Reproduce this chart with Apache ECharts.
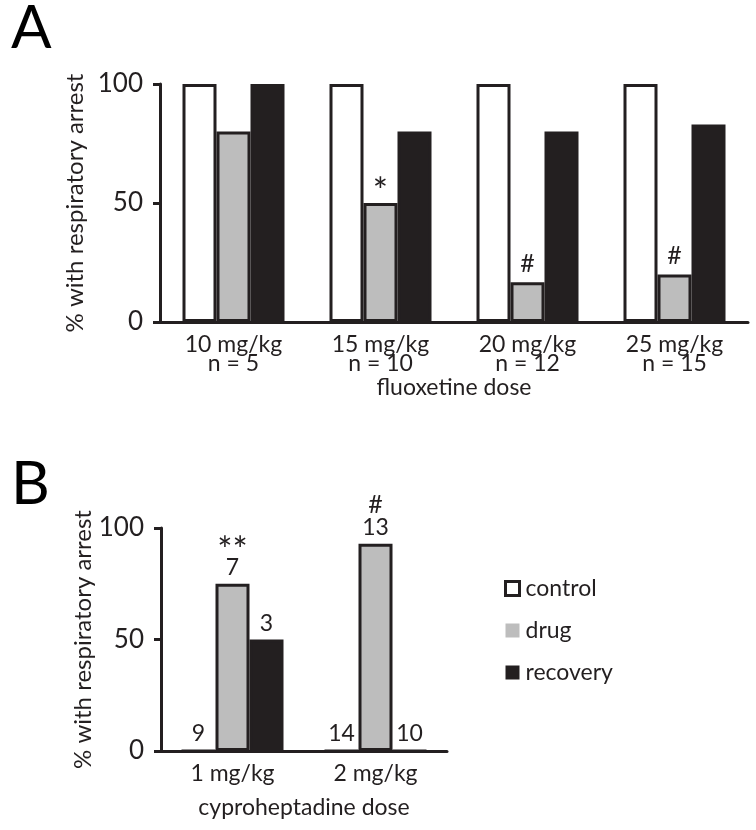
<!DOCTYPE html>
<html><head><meta charset="utf-8">
<script src="https://cdn.jsdelivr.net/npm/echarts@6/dist/echarts.min.js"></script>
<style>html,body{margin:0;padding:0;background:#fff}#c{width:756px;height:830px}</style>
</head><body><div id="c"></div>
<script>
// Panel A data
var catsA = ['10 mg/kg\nn = 5', '15 mg/kg\nn = 10', '20 mg/kg\nn = 12', '25 mg/kg\nn = 15'];
var controlA = [100, 100, 100, 100];
var drugA = [80, 50, 16.7, 20];
var recoveryA = [100, 80, 80, 83];
var drugMarksA = ['', '*', '#', '#'];
// Panel B data
var catsB = ['1 mg/kg', '2 mg/kg'];
var controlB = [0, 0];
var drugB = [75, 92.9];
var recoveryB = [50, 0];
var controlNB = ['9', '14'];
var drugNB = ['7', '13'];
var recoveryNB = ['3', '10'];
var drugMarksB = ['**', '#'];
var yTicks = [0, 50, 100];

var DARK = '#231f20', GRAY = '#bdbdbd';
var FONT = 'Lato';
var chart = echarts.init(document.getElementById('c'));

function markRich(m) {
  return m.indexOf('*') >= 0 ? '{s|' + m + '}' : '{h|' + m + '}';
}
var markStyles = {
  s: {fontFamily: FONT, fontSize: 36, color: DARK, lineHeight: 22, padding: [0, 0, -12, 0]},
  h: {fontFamily: FONT, fontSize: 25, color: DARK, lineHeight: 24}
};

function yAxis(gi) {
  return {
    gridIndex: gi, type: 'value', min: yTicks[0], max: yTicks[yTicks.length - 1], interval: yTicks[1] - yTicks[0],
    name: '% with respiratory arrest', nameLocation: 'middle', nameGap: 66,
    nameTextStyle: {fontFamily: FONT, fontSize: 24, color: DARK},
    axisLine: {show: true, lineStyle: {color: DARK, width: 3}},
    axisTick: {show: true, length: 7, lineStyle: {color: DARK, width: 3}},
    axisLabel: {fontFamily: FONT, fontSize: 26, color: DARK, margin: 17},
    splitLine: {show: false}
  };
}
function xAxis(gi, cats, name, nameGap) {
  return {
    gridIndex: gi, type: 'category', data: cats,
    name: name, nameLocation: 'middle', nameGap: nameGap,
    nameTextStyle: {fontFamily: FONT, fontSize: 23, color: DARK},
    axisLine: {show: true, lineStyle: {color: DARK, width: 3}},
    axisTick: {show: false},
    axisLabel: {fontFamily: FONT, fontSize: 23, color: DARK, margin: 13, lineHeight: 19},
    splitLine: {show: false}
  };
}

function bar(name, gi, data, fill, label) {
  var s = {
    name: name, type: 'bar', xAxisIndex: gi, yAxisIndex: gi, data: data,
    barWidth: 34, barGap: '0%',
    itemStyle: {color: fill, borderColor: DARK, borderWidth: 3},
    emphasis: {disabled: true}
  };
  if (label) s.label = label;
  return s;
}

chart.setOption({
  animation: false,
  backgroundColor: '#fff',
  title: [
    {text: 'A', left: 6, top: -6, textStyle: {fontFamily: FONT, fontSize: 60, fontWeight: 'normal', color: '#000'}},
    {text: 'B', left: 6, top: 450, textStyle: {fontFamily: FONT, fontSize: 60, fontWeight: 'normal', color: '#000'}}
  ],
  grid: [
    {left: 160, top: 84, width: 588, height: 238},
    {left: 161, top: 528, width: 286, height: 223}
  ],
  legend: {
    orient: 'vertical', left: 499, top: 572, itemWidth: 14, itemHeight: 14, itemGap: 19,
    textStyle: {fontFamily: FONT, fontSize: 23, color: DARK, padding: [0, 0, 0, 1]},
    selectedMode: false,
    data: [
      {name: 'control', icon: 'rect', itemStyle: {color: '#fff', borderColor: DARK, borderWidth: 3}},
      {name: 'drug', icon: 'rect', itemStyle: {color: GRAY, borderWidth: 0}},
      {name: 'recovery', icon: 'rect', itemStyle: {color: DARK, borderWidth: 0}}
    ]
  },
  xAxis: [xAxis(0, catsA, 'fluoxetine dose', 51), xAxis(1, catsB, 'cyproheptadine dose', 45)],
  yAxis: [yAxis(0), yAxis(1)],
  series: [
    bar('control', 0, controlA, '#fff'),
    bar('drug', 0, drugA, GRAY, {show: true, position: 'top', distance: 6,
      formatter: function (p) { var m = drugMarksA[p.dataIndex]; return m ? markRich(m) : ''; }, rich: markStyles}),
    bar('recovery', 0, recoveryA, DARK),
    bar('control', 1, controlB, '#fff', {show: true, position: 'top', distance: 4,
      formatter: function (p) { return controlNB[p.dataIndex]; }, fontFamily: FONT, fontSize: 23, color: DARK}),
    bar('drug', 1, drugB, GRAY, {show: true, position: 'top', distance: 5,
      formatter: function (p) { return markRich(drugMarksB[p.dataIndex]) + '\n{n|' + drugNB[p.dataIndex] + '}'; },
      rich: {s: markStyles.s, h: markStyles.h, n: {fontFamily: FONT, fontSize: 23, color: DARK, lineHeight: 22}}}),
    bar('recovery', 1, recoveryB, DARK, {show: true, position: 'top', distance: 4,
      formatter: function (p) { return recoveryNB[p.dataIndex]; }, fontFamily: FONT, fontSize: 23, color: DARK})
  ]
});
</script></body></html>
